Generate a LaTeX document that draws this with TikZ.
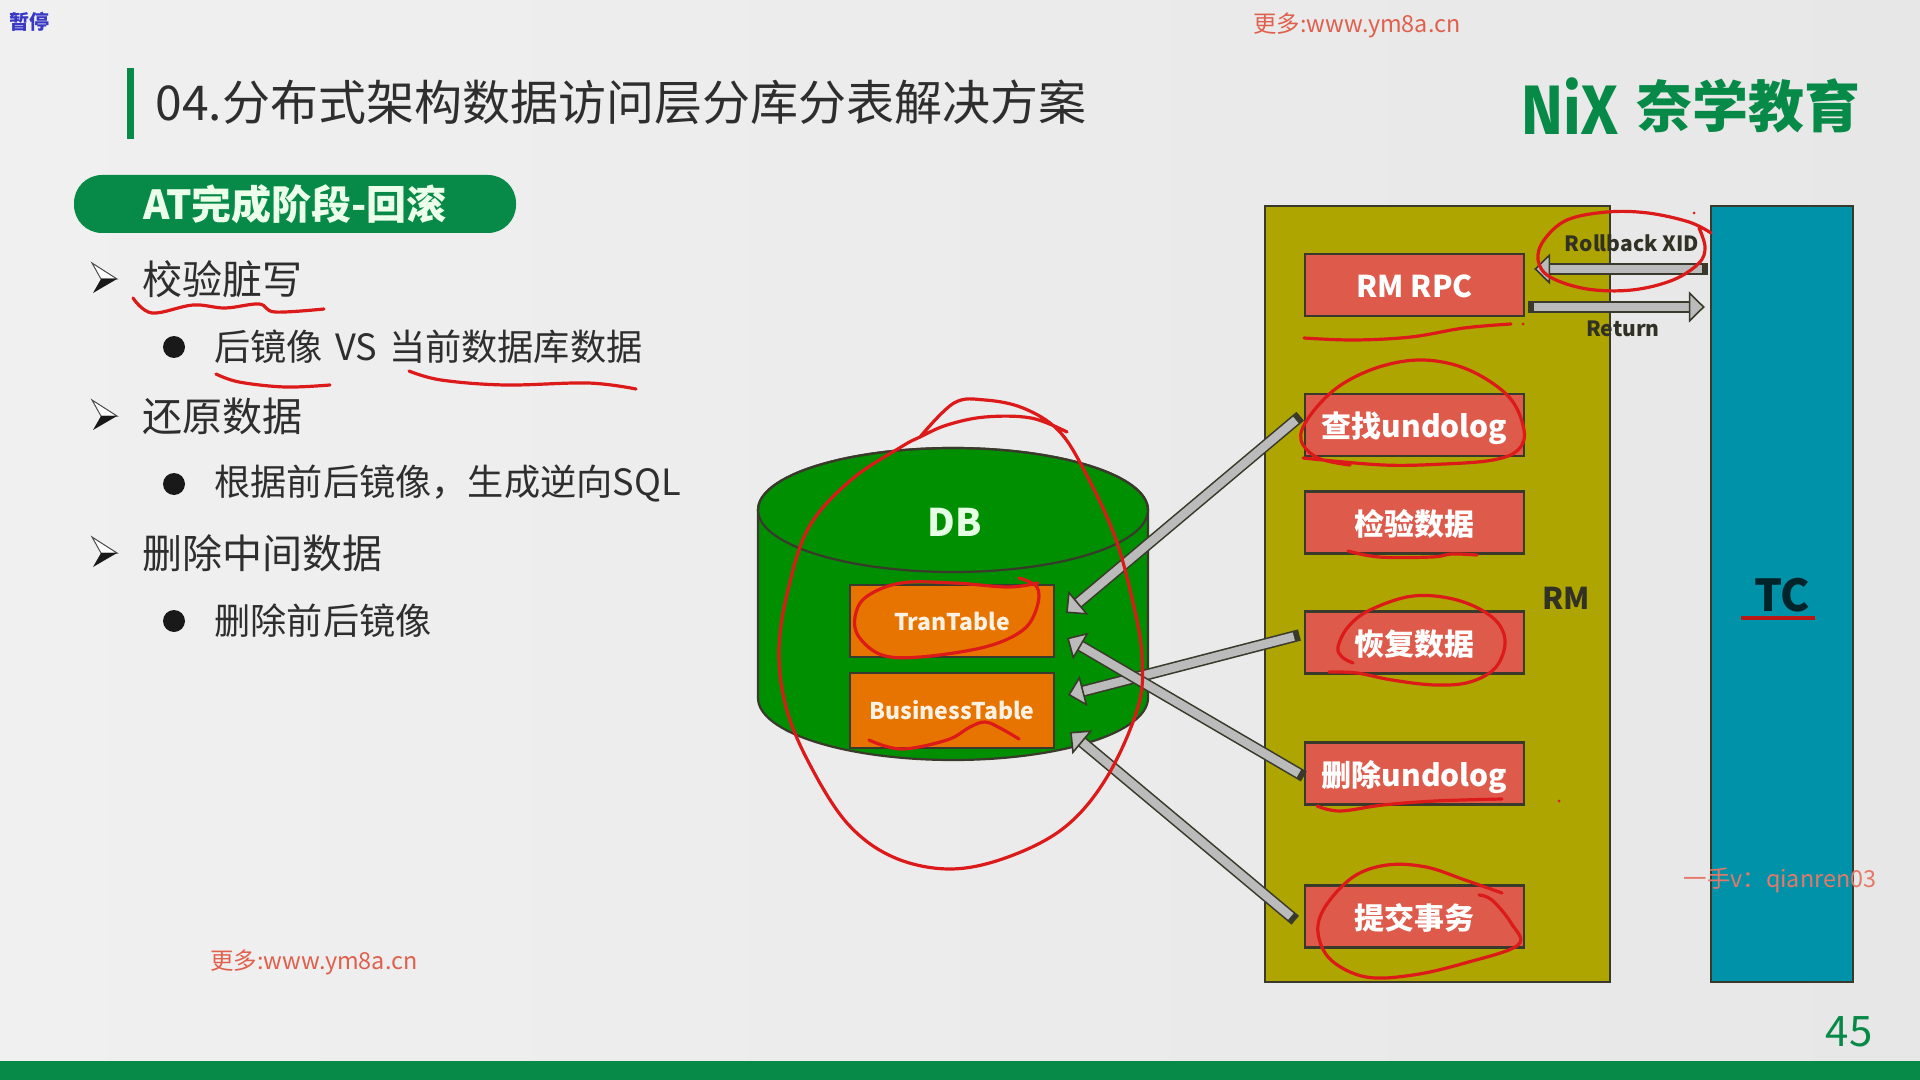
\documentclass[tikz,border=0pt]{standalone}
\usepackage{fontspec}
\usepackage{xcolor}
\usetikzlibrary{arrows.meta}
\setmainfont{Noto Sans CJK SC}
\newfontfamily\logofont{Fira Sans}
\definecolor{pagel}{HTML}{F0F0F0}
\definecolor{pager}{HTML}{E7E7E7}
\definecolor{nxgreen}{HTML}{078A47}
\definecolor{rmfill}{HTML}{AFA500}
\definecolor{tcfill}{HTML}{0092A8}
\definecolor{boxred}{HTML}{DE5B4C}
\definecolor{taborange}{HTML}{E87400}
\definecolor{dbgreen}{HTML}{008F00}
\definecolor{edge}{HTML}{3A3A2C}
\definecolor{fatgray}{HTML}{BBBBBB}
\definecolor{inkred}{HTML}{DC1A1A}
\definecolor{markred}{HTML}{E0604D}
\tikzset{
  redbox/.style={draw=edge, line width=1.2pt, fill=boxred, text=white, font=\fontsize{15}{18}\selectfont\bfseries, minimum width=109.5pt, minimum height=31pt, inner sep=0pt, text height=13pt, text depth=0.5pt},
  tabbox/.style={draw=edge, line width=1.1pt, fill=taborange, text=white!90!orange, font=\fontsize{11.5}{14}\selectfont\bfseries, minimum width=102pt, inner sep=0pt},
  column/.style={draw=edge, line width=1.2pt, minimum width=#1, minimum height=388pt, inner sep=0pt},
  fatarrow/.style={line width=4.2pt, draw=fatgray, preaction={draw=edge, line width=5.8pt, line cap=rect, shorten >=6pt, -}, -{Triangle[length=8pt,width=15.5pt,fill=fatgray,color=edge,line width=0.8pt]}},
  ink/.style={draw=inkred, line width=1.6pt, line cap=round, line join=round, smooth, tension=0.6},
  toptext/.style={anchor=west, inner sep=0pt, text=black!82, font=\fontsize{20}{24}\selectfont},
  subtext/.style={anchor=west, inner sep=0pt, text=black!82, font=\fontsize{18.1}{22}\selectfont},
  dotmark/.style={circle, fill=black!90, minimum size=11pt, inner sep=0pt},
  smalllabel/.style={text=edge!85!black, font=\fontsize{10.5}{13}\selectfont\bfseries, inner sep=0pt},
  webmark/.style={text=markred, font=\fontsize{11.7}{14}\selectfont, inner sep=0pt},
  arrowmark/.pic={
    \draw[black!70, line width=0.5pt, fill=white] (-12,-16) -- (13,0) -- (-3,0) -- cycle;
    \fill[black!90] (-11,14) -- (13,0) -- (-3,0) -- cycle;
  }
}
\begin{document}
\begin{tikzpicture}[x=0.5pt, y=-0.5pt, node distance=60pt]
    \useasboundingbox (0,0) rectangle (1920,1080);
    \shade[left color=pagel, right color=pager] (0,0) rectangle (1920,1080);
    \fill[nxgreen] (0,1061) rectangle (1920,1080);
    \fill[nxgreen] (127,68) rectangle (134,139);

    % Header
    \node (pause) at (30,22) [text=blue!55!gray, font=\fontsize{10}{12}\selectfont\bfseries, inner sep=0pt] {暂停};
    \node (web1) at (1357,25) [webmark] {更多:www.ym8a.cn};
    \node (title) at (155,102) [anchor=west, inner sep=0pt, text=black!82, font=\fontsize{24}{28}\selectfont] {04.分布式架构数据访问层分库分表解决方案};
    \node (nix) at (1570,106) [text=nxgreen, xscale=0.9, transform shape, inner sep=0pt, font=\logofont\fontsize{35}{40}\selectfont\bfseries] {NiX};
    \node (brand) at (1748,106) [text=nxgreen, inner sep=0pt, font=\fontsize{28}{32}\selectfont\bfseries] {奈学教育};

    % Outline
    \node (phase) at (295,204) [fill=nxgreen, rounded corners=14pt, minimum width=221pt, minimum height=29pt, inner sep=0pt, text=white!92!green, font=\fontsize{20}{24}\selectfont\bfseries] {AT完成阶段-回滚};
    \pic at (104,279) {arrowmark};
    \node (t1) at (142,279) [toptext] {校验脏写};
    \node (d1) at (174,347) [dotmark] {};
    \node (s1) at (214,347) [subtext] {后镜像\hspace{2pt} VS \hspace{2pt}当前数据库数据};
    \pic at (104,416) {arrowmark};
    \node (t2) at (142,416) [toptext] {还原数据};
    \node (d2) at (174,484) [dotmark] {};
    \node (s2) at (214,484) [subtext] {根据前后镜像，生成逆向SQL};
    \pic at (104,553) {arrowmark};
    \node (t3) at (142,553) [toptext] {删除中间数据};
    \node (d3) at (174,621) [dotmark] {};
    \node (s3) at (214,621) [subtext] {删除前后镜像};
    \node (web2) at (314,962) [webmark] {更多:www.ym8a.cn};
    \node (page) at (1849,1032) [inner sep=0pt, text=nxgreen, font=\fontsize{21}{24}\selectfont] {45};

    % Database
    \draw[draw=edge, line width=1.1pt, fill=dbgreen] (758,510) -- (758,698) arc[start angle=180, end angle=0, x radius=195, y radius=62] -- (1148,510) arc[start angle=0, end angle=-180, x radius=195, y radius=62] -- cycle;
    \draw[draw=edge, line width=1.1pt] (953,510) ellipse [x radius=195, y radius=62];
    \node (db) at (955,522) [inner sep=0pt, text=white!90!green, font=\fontsize{19}{22}\selectfont\bfseries] {DB};
    \node (tran) at (952,621) [tabbox, minimum height=36pt] {TranTable};
    \node (biz) [below of=tran, yshift=15.25pt, tabbox, minimum height=37.5pt] {BusinessTable};

    % Columns
    \node (rm) at (1437.5,594) [column=172.5pt, fill=rmfill] {};
    \node (tc) at (1782,594) [column=71pt, fill=tcfill] {};
    \node (rmlabel) at (1566,598) [inner sep=0pt, text=edge!85!black, font=\fontsize{15}{18}\selectfont\bfseries] {RM};
    \node (tclabel) at (1782,595) [inner sep=0pt, text=black!75!tcfill, font=\fontsize{22}{26}\selectfont\bfseries] {TC};
    \node (rpc) at (1414.5,285) [redbox] {RM RPC};
    \node (find) [below of=rpc, yshift=-10pt, redbox] {查找undolog};
    \node (check) [below of=find, yshift=11.25pt, redbox] {检验数据};
    \node (recover) [below of=check, redbox] {恢复数据};
    \node (delete) [below of=recover, yshift=-5.5pt, redbox] {删除undolog};
    \node (commit) [below of=delete, yshift=-11.5pt, redbox] {提交事务};
    \node (rollback) at (1632,243) [smalllabel] {Rollback XID};
    \node (return) at (1623,329) [smalllabel] {Return};

    % Arrows
    \coordinate (rbend) at ([xshift=4.5pt,yshift=8pt]rpc.east);
    \coordinate (retbegin) at ([xshift=4.5pt,yshift=-11pt]rpc.east);
    \draw[fatarrow] ([xshift=-4pt]rbend -| tc.west) -- (rbend);
    \draw[fatarrow] (retbegin) -- ([xshift=-2.5pt]retbegin -| tc.west);
    \draw[fatarrow] ([xshift=-4pt,yshift=2.5pt]find.west) -- ([xshift=5.5pt,yshift=4pt]tran.east);
    \draw[fatarrow] ([xshift=-5pt,yshift=3pt]recover.west) -- ([xshift=6.5pt,yshift=7.75pt]biz.east);
    \draw[fatarrow] ([xshift=-2.5pt]delete.west) -- ([xshift=6pt,yshift=-8.5pt]tran.east);
    \draw[fatarrow] ([xshift=-6.5pt]commit.west) -- ([xshift=7.5pt,yshift=-10.75pt]biz.east);
    \node (wechat) at (1780,880) [webmark, text=markred!85] {一手v：qianren03};

    % Marks
    \draw[ink] plot coordinates {(133,298) (152,313) (193,305) (225,308) (259,304) (275,312) (324,309)};
    \draw[ink] plot coordinates {(216,374) (239,382) (285,387) (330,385)};
    \draw[ink] plot coordinates {(409,371) (441,380) (505,385) (588,383) (636,389)};
    \draw[ink] plot coordinates {(920,437) (954,403) (985,400) (1023,408) (1058,430) (1084,470) (1115,537) (1134,607) (1142,657) (1138,707) (1107,777) (1065,827) (1008,857) (950,869) (893,857) (847,823) (809,763) (786,707) (779,650) (788,590) (809,527) (851,480) (901,447) (920,437) (947,425) (985,417) (1031,418) (1067,432)};
    \draw[ink] plot coordinates {(1019,578) (1037,587) (1037,607) (1023,630) (985,647) (920,657) (882,655) (859,637) (855,617) (866,597) (901,583) (954,583) (1008,587) (1038,583)};
    \draw[ink] plot coordinates {(869,740) (901,749) (947,740) (970,727) (985,722) (1000,728) (1019,739)};
    \draw[ink] plot coordinates {(1711,233) (1689,222) (1648,213) (1607,212) (1567,220) (1544,240) (1538,260) (1550,277) (1587,289) (1632,290) (1673,280) (1699,263) (1705,247) (1699,228)};
    \draw[ink] plot coordinates {(1304,338) (1354,340) (1411,337) (1464,328) (1511,324)};
    \draw[ink] plot coordinates {(1303,458) (1383,465) (1444,464) (1493,460) (1518,450) (1524,430) (1509,397) (1469,370) (1424,360) (1379,367) (1338,387) (1309,417) (1301,440) (1318,458) (1350,465)};
    \draw[ink] plot coordinates {(1348,551) (1379,557) (1432,557) (1452,554) (1477,555)};
    \draw[ink] plot coordinates {(1353,663) (1342,657) (1338,647) (1348,627) (1370,610) (1413,596) (1457,600) (1492,617) (1505,640) (1496,667) (1470,682) (1435,685) (1392,680) (1357,673) (1329,672)};
    \draw[ink] plot coordinates {(1317,806) (1340,811) (1383,805) (1435,801) (1502,799)};
    \draw[ink] plot coordinates {(1502,893) (1465,880) (1426,867) (1387,865) (1353,877) (1325,907) (1318,933) (1331,960) (1366,977) (1413,975) (1465,963) (1518,945) (1511,923) (1492,900) (1479,895)};
    \draw[inkred!85!black, line width=1.6pt] (1741,618) -- (1815,618);
    \fill[inkred] (1694,213) circle (1.5) (1523,324) circle (1.5) (1559,801) circle (1.5);
\end{tikzpicture}
\end{document}
